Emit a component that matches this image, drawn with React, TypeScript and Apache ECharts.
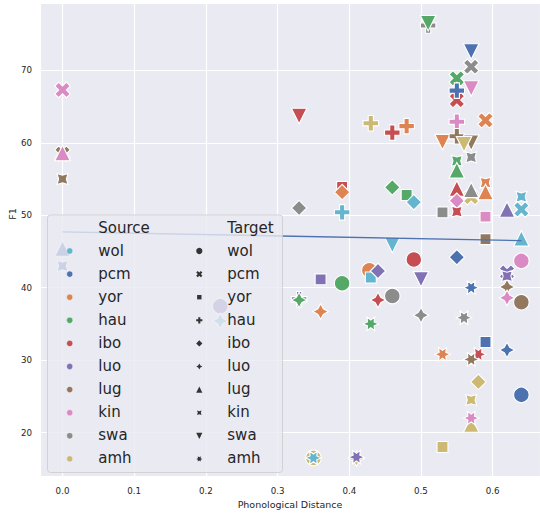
import React, { useEffect, useRef } from 'react';
import * as echarts from 'echarts';

// ---------- data ----------
const languages = ['wol', 'pcm', 'yor', 'hau', 'ibo', 'luo', 'lug', 'kin', 'swa', 'amh'];
const palette = ['#64B5CD', '#4C72B0', '#DD8452', '#55A868', '#C44E52', '#8172B3', '#937860', '#DA8BC3', '#8C8C8C', '#CCB974'];

// points in drawing order (source -> target)
const pointSource = [
  'swa', 'hau', 'pcm', 'swa', 'hau', 'ibo', 'pcm', 'kin', 'kin', 'lug',
  'kin', 'lug', 'pcm', 'pcm', 'luo', 'wol', 'ibo', 'swa', 'luo', 'hau',
  'amh', 'wol', 'luo', 'yor', 'ibo', 'yor', 'wol', 'hau', 'amh', 'luo',
  'amh', 'hau', 'yor', 'wol', 'luo', 'ibo', 'ibo', 'hau', 'wol', 'swa',
  'yor', 'hau', 'ibo', 'wol', 'luo', 'swa', 'yor', 'swa', 'yor', 'amh',
  'kin', 'lug', 'hau', 'hau', 'lug', 'ibo', 'kin', 'ibo', 'pcm', 'lug',
  'amh', 'swa', 'swa', 'amh', 'swa', 'pcm', 'ibo', 'lug', 'amh', 'amh',
  'amh', 'kin', 'yor', 'pcm', 'yor', 'yor', 'kin', 'lug', 'luo', 'lug',
  'luo', 'luo', 'kin', 'pcm', 'lug', 'wol', 'wol', 'kin', 'pcm', 'wol',
];
const pointTarget = [
  'hau', 'swa', 'swa', 'pcm', 'pcm', 'pcm', 'hau', 'swa', 'pcm', 'pcm',
  'lug', 'kin', 'lug', 'kin', 'wol', 'luo', 'swa', 'ibo', 'hau', 'luo',
  'wol', 'amh', 'yor', 'luo', 'yor', 'ibo', 'hau', 'wol', 'luo', 'amh',
  'hau', 'amh', 'wol', 'yor', 'ibo', 'luo', 'hau', 'ibo', 'swa', 'wol',
  'hau', 'yor', 'wol', 'ibo', 'swa', 'luo', 'swa', 'yor', 'amh', 'yor',
  'hau', 'hau', 'kin', 'lug', 'ibo', 'lug', 'ibo', 'kin', 'ibo', 'swa',
  'swa', 'amh', 'kin', 'pcm', 'lug', 'amh', 'amh', 'amh', 'ibo', 'lug',
  'kin', 'amh', 'pcm', 'yor', 'kin', 'lug', 'yor', 'yor', 'lug', 'luo',
  'pcm', 'kin', 'luo', 'luo', 'wol', 'kin', 'pcm', 'wol', 'wol', 'lug',
];
const pointDistance = [
  0.51, 0.51, 0.57, 0.57, 0.55, 0.55, 0.55, 0.57, 0.0, 0.0,
  0.0, 0.0, 0.0, 0.0, 0.22, 0.22, 0.33, 0.33, 0.33, 0.33,
  0.35, 0.35, 0.36, 0.36, 0.39, 0.39, 0.39, 0.39, 0.41, 0.41,
  0.43, 0.43, 0.428, 0.43, 0.44, 0.44, 0.46, 0.46, 0.46, 0.46,
  0.48, 0.48, 0.49, 0.49, 0.5, 0.5, 0.53, 0.53, 0.53, 0.53,
  0.55, 0.55, 0.55, 0.55, 0.55, 0.55, 0.55, 0.55, 0.55, 0.57,
  0.56, 0.56, 0.57, 0.57, 0.57, 0.57, 0.58, 0.57, 0.58, 0.57,
  0.57, 0.57, 0.59, 0.59, 0.59, 0.59, 0.59, 0.59, 0.62, 0.62,
  0.62, 0.62, 0.62, 0.62, 0.64, 0.64, 0.64, 0.64, 0.64, 0.64,
];
const pointF1 = [
  76.2, 76.5, 72.6, 70.5, 68.9, 65.9, 67.2, 67.5, 67.3, 58.5,
  58.6, 55.0, 45.4, 43.0, 37.45, 35.4, 63.7, 51.0, 38.4, 38.3,
  16.5, 16.5, 41.15, 36.7, 53.9, 53.2, 50.4, 40.6, 16.4, 16.6,
  62.7, 35.0, 42.4, 41.4, 42.3, 38.3, 61.4, 53.85, 45.9, 38.85,
  62.3, 52.8, 43.9, 51.8, 41.15, 36.2, 60.1, 50.4, 30.8, 18.0,
  62.9, 60.9, 57.5, 56.2, 52.0, 53.7, 52.0, 50.5, 44.2, 60.0,
  59.8, 35.85, 58.0, 52.5, 53.5, 40.0, 30.8, 30.1, 27.0, 21.1,
  24.5, 22.0, 63.1, 32.5, 54.5, 53.2, 49.8, 46.7, 50.8, 40.1,
  42.1, 41.6, 38.6, 31.4, 38.0, 52.55, 50.8, 43.7, 25.2, 46.8,
];

// regression line end points
const fitDistance = [0.0, 0.64];
const fitF1 = [47.7, 46.5];

const xTicks = [0.0, 0.1, 0.2, 0.3, 0.4, 0.5, 0.6];
const yTicks = [20, 30, 40, 50, 60, 70];

// ---------- marker shapes (matplotlib / seaborn style markers) ----------
type Pt = [number, number];
function toD(pts: Pt[]): string {
  return 'M' + pts.map((p) => p[0].toFixed(4) + ' ' + p[1].toFixed(4)).join(' L') + ' Z';
}
function poly(n: number, star: boolean, angle: number): string {
  const pts: Pt[] = [];
  const count = star ? 2 * n : n;
  for (let k = 0; k < count; k++) {
    const th = ((90 + angle) + k * (star ? 180 / n : 360 / n)) * Math.PI / 180;
    const r = star ? (k % 2 === 0 ? 0.5 : 0.25) : 0.5;
    pts.push([r * Math.cos(th), -r * Math.sin(th)]);
  }
  return toD(pts);
}
const xPath = toD(([[-1, -2], [0, -1], [1, -2], [2, -1], [1, 0], [2, 1], [1, 2], [0, 1], [-1, 2], [-2, 1], [-1, 0], [-2, -1]] as Pt[]).map((p) => [p[0] / 4, p[1] / 4] as Pt));
const plusPath = toD(([[-1, -3], [1, -3], [1, -1], [3, -1], [3, 1], [1, 1], [1, 3], [-1, 3], [-1, 1], [-3, 1], [-3, -1], [-1, -1]] as Pt[]).map((p) => [p[0] / 6, p[1] / 6] as Pt));
const upPath = toD([[0, -0.5], [-0.5, 0.5], [0.5, 0.5]]);
const downPath = toD([[0, 0.5], [-0.5, -0.5], [0.5, -0.5]]);

const markerDefs: Record<string, { d: string | null; w: number; h: number }> = {
  wol: { d: null, w: 1, h: 1 },
  pcm: { d: xPath, w: 1, h: 1 },
  yor: { d: poly(4, false, 45), w: 0.7071, h: 0.7071 },
  hau: { d: plusPath, w: 1, h: 1 },
  ibo: { d: poly(4, false, 0), w: 1, h: 1 },
  luo: { d: poly(4, true, 0), w: 1, h: 1 },
  lug: { d: upPath, w: 1, h: 1 },
  kin: { d: poly(4, true, 45), w: 0.7071, h: 0.7071 },
  swa: { d: downPath, w: 1, h: 1 },
  amh: { d: poly(6, true, 30), w: 1, h: 0.866 },
};

languages.forEach((l) => {
  const m = markerDefs[l];
  if (m.d) {
    echarts.graphic.registerShape('mk_' + l, echarts.graphic.extendPath(m.d, {}) as any);
  }
});

const S = 15.5;
const FONT = 'DejaVu Sans';
const TEXT = '#262626';

export default function App() {
  const ref = useRef<HTMLDivElement>(null);

  useEffect(() => {
    if (!ref.current) return;
    const chart = echarts.init(ref.current, undefined, { renderer: 'svg' });

    const scatterData = pointSource.map((src, i) => {
      const tgt = pointTarget[i];
      const m = markerDefs[tgt];
      return {
        value: [pointDistance[i], pointF1[i]],
        symbol: m.d ? 'path://' + m.d : 'circle',
        symbolSize: [S * m.w, S * m.h],
        itemStyle: { color: palette[languages.indexOf(src)] },
      };
    });

    // legend graphics
    const LX0 = 47.5, LY0 = 215, LW = 235, LH = 257.5;
    const rowY = (i: number) => 251 + i * 23.1;
    const srcDotX = 69.7, srcTextX = 98.3, tgtMarkX = 199.3, tgtTextX = 227.3;
    const textStyle = (text: string) => ({
      text,
      fill: TEXT,
      fontSize: 15,
      fontFamily: FONT,
      align: 'left',
      verticalAlign: 'middle',
      textAlign: 'left',
      textVerticalAlign: 'middle',
    });
    const graphics: any[] = [
      {
        type: 'rect',
        z: 100,
        shape: { x: LX0, y: LY0, width: LW, height: LH, r: 3 },
        style: { fill: 'rgba(234,234,242,0.8)', stroke: 'rgba(204,204,204,0.8)', lineWidth: 1 },
      },
      { type: 'text', z: 101, x: srcTextX, y: 227.7, style: textStyle('Source') },
      { type: 'text', z: 101, x: tgtTextX, y: 227.7, style: textStyle('Target') },
    ];
    const LS = 6.2;
    languages.forEach((l, i) => {
      const y = rowY(i);
      graphics.push({
        type: 'circle', z: 101,
        shape: { cx: srcDotX, cy: y, r: LS / 2 },
        style: { fill: palette[i], stroke: '#ffffff', lineWidth: 0.4 },
      });
      graphics.push({ type: 'text', z: 101, x: srcTextX, y: y - 0.5, style: textStyle(l) });
      const m = markerDefs[l];
      if (m.d) {
        graphics.push({
          type: 'mk_' + l, z: 101,
          x: tgtMarkX, y, scaleX: LS, scaleY: LS,
          style: { fill: '#333333' },
        });
      } else {
        graphics.push({
          type: 'circle', z: 101,
          shape: { cx: tgtMarkX, cy: y, r: LS / 2 },
          style: { fill: '#333333' },
        });
      }
      graphics.push({ type: 'text', z: 101, x: tgtTextX, y: y - 0.5, style: textStyle(l) });
    });
    // y axis title
    graphics.push({
      type: 'text', z: 101, x: 12, y: 214, rotation: Math.PI / 2,
      style: {
        text: 'F1', fill: TEXT, fontSize: 9.5, fontFamily: FONT,
        align: 'center', verticalAlign: 'middle', textAlign: 'center', textVerticalAlign: 'middle',
      },
    });

    const isTick = (v: number, step: number) => Math.abs(v / step - Math.round(v / step)) < 1e-6;

    chart.setOption({
      animation: false,
      textStyle: { fontFamily: FONT },
      grid: {
        left: 40, right: 0, top: 3, bottom: 40,
        show: true, backgroundColor: '#EAEAF2', borderWidth: 0,
      },
      xAxis: {
        type: 'value',
        min: -0.0314,
        max: 0.666,
        name: 'Phonological Distance',
        nameLocation: 'middle',
        nameGap: 23,
        nameTextStyle: { fontSize: 9.5, color: TEXT, fontFamily: FONT },
        axisLine: { show: false },
        axisTick: { show: false },
        splitLine: { show: true, lineStyle: { color: '#ffffff', width: 1.2 } },
        axisLabel: {
          showMinLabel: false,
          showMaxLabel: false,
          margin: 10,
          fontSize: 8.7,
          color: TEXT,
          fontFamily: FONT,
          formatter: (v: number) => {
            const hit = xTicks.find((t) => Math.abs(t - v) < 1e-6);
            return hit !== undefined && isTick(v, 0.1) ? hit.toFixed(1) : '';
          },
        },
      },
      yAxis: {
        type: 'value',
        min: 14.0,
        max: 79.3,
        axisLine: { show: false },
        axisTick: { show: false },
        splitLine: { show: true, lineStyle: { color: '#ffffff', width: 1.2 } },
        axisLabel: {
          showMinLabel: false,
          showMaxLabel: false,
          margin: 8,
          fontSize: 8.7,
          color: TEXT,
          fontFamily: FONT,
          formatter: (v: number) => {
            const hit = yTicks.find((t) => Math.abs(t - v) < 1e-6);
            return hit !== undefined ? String(hit) : '';
          },
        },
      },
      series: [
        {
          type: 'scatter',
          z: 2,
          data: scatterData,
          itemStyle: { borderColor: '#ffffff', borderWidth: 1.1, opacity: 1 },
          emphasis: { disabled: true },
        },
        {
          type: 'line',
          z: 5,
          data: fitDistance.map((x, i) => [x, fitF1[i]]),
          symbol: 'none',
          lineStyle: { color: '#4C72B0', width: 1.4 },
          emphasis: { disabled: true },
        },
      ],
      graphic: graphics,
    });

    return () => chart.dispose();
  }, []);

  return (
    <div
      ref={ref}
      style={{ position: 'absolute', left: 0, top: 0, width: 540, height: 516 }}
    />
  );
}
